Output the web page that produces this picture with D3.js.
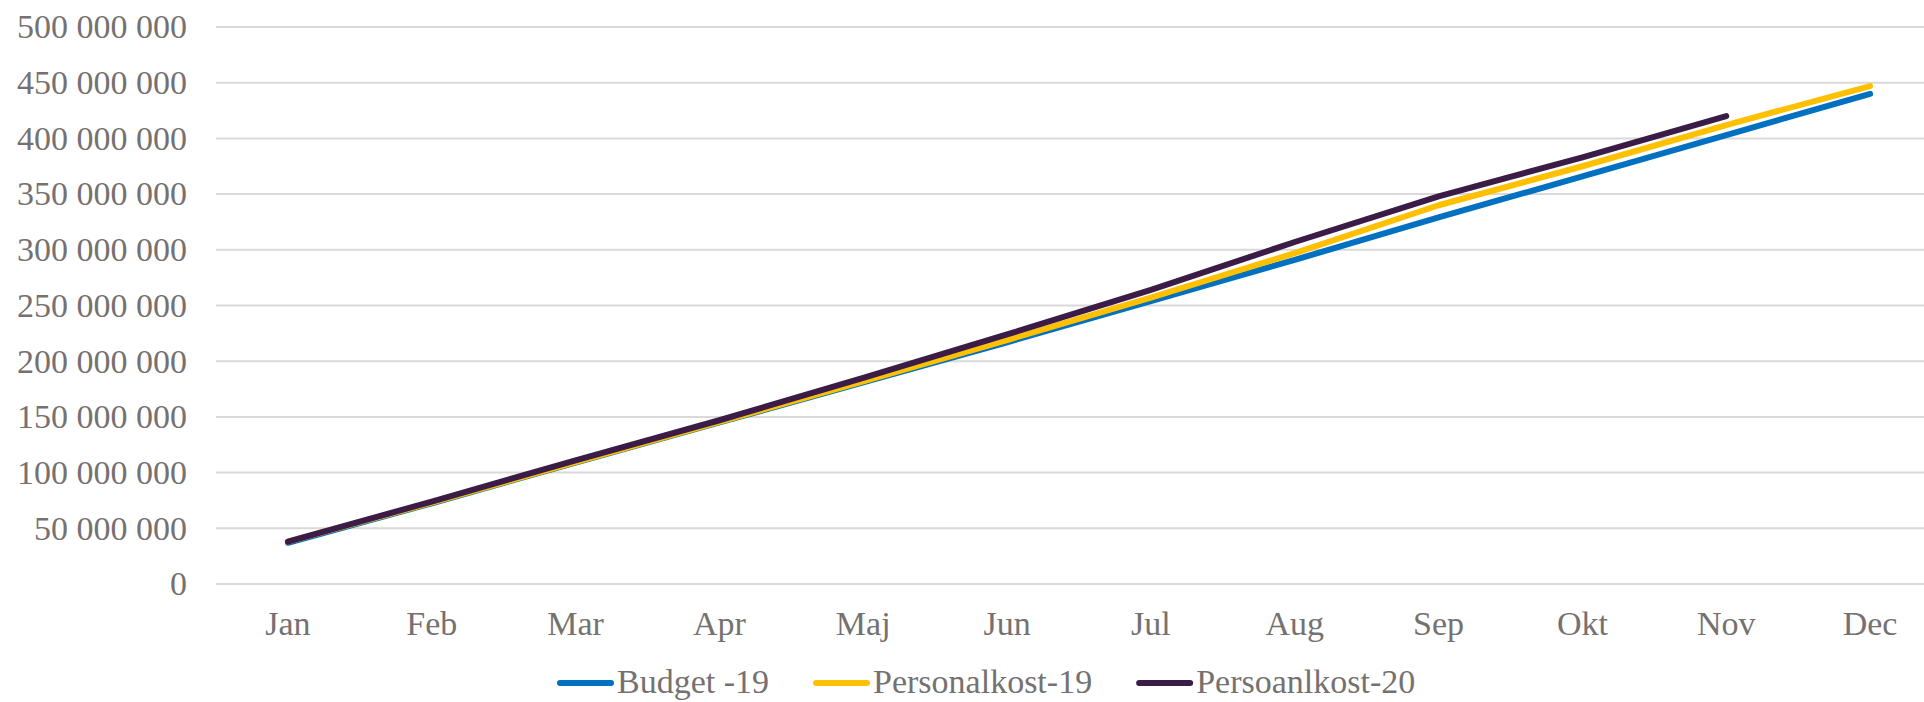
<!DOCTYPE html>
<html>
<head>
<meta charset="utf-8">
<script src="https://cdn.jsdelivr.net/npm/d3@7"></script>
<style>
  body { margin: 0; background: #fff; }
  text { font-family: "Liberation Serif", serif; fill: #767171; }
</style>
</head>
<body>
<svg width="1924" height="702"></svg>
<script>
// months and series (SEK)
var months = ['Jan', 'Feb', 'Mar', 'Apr', 'Maj', 'Jun', 'Jul', 'Aug', 'Sep', 'Okt', 'Nov', 'Dec'];
var budget19 = [37e6, 72.5e6, 109e6, 145e6, 181e6, 217e6, 254e6, 291e6, 329e6, 366e6, 403e6, 440e6];
var personal19 = [38e6, 73e6, 109.5e6, 145.5e6, 182e6, 219e6, 257e6, 297e6, 340e6, 375e6, 412e6, 447e6];
var personal20 = [38e6, 74e6, 111e6, 147e6, 185e6, 224e6, 264e6, 307e6, 348e6, 383e6, 420e6];
var yTicks = [0, 50e6, 100e6, 150e6, 200e6, 250e6, 300e6, 350e6, 400e6, 450e6, 500e6];

var seriesNames = ['Budget -19', 'Personalkost-19', 'Persoanlkost-20'];
var seriesColors = ['#0070C0', '#FFC000', '#3B1C46'];
var seriesData = [budget19, personal19, personal20];

var svg = d3.select('svg');

// plot runs past the right edge, the original is cropped there
// (don't name these top/left globals -- window.top is read-only)
var plotL = 216, plotR = 1942, plotT = 27, plotB = 584;

var x = d3.scaleBand().domain(months).range([plotL, plotR]);
var y = d3.scaleLinear().domain([0, 500e6]).range([plotB, plotT]);

var fmt = function(d) {
  return d3.format(',')(d).replace(/,/g, ' ');
};

// gridlines
svg.append('g')
  .selectAll('line')
  .data(yTicks)
  .enter()
  .append('line')
  .attr('x1', plotL)
  .attr('x2', plotR)
  .attr('y1', function(d) { return y(d); })
  .attr('y2', function(d) { return y(d); })
  .attr('stroke', '#D9D9D9')
  .attr('stroke-width', 2);

// y labels
var yAxis = d3.axisLeft(y).tickValues(yTicks).tickFormat(fmt).tickSize(0).tickPadding(0);
var gy = svg.append('g')
  .attr('transform', 'translate(187,0)')
  .call(yAxis);
gy.select('.domain').remove();
gy.selectAll('text')
  .attr('font-size', 34)
  .attr('font-family', '"Liberation Serif", serif')
  .attr('fill', '#767171');

// x labels
var xAxis = d3.axisBottom(x).tickSize(0).tickPadding(0);
var gx = svg.append('g')
  .attr('transform', 'translate(0,611)')
  .call(xAxis);
gx.select('.domain').remove();
gx.selectAll('text')
  .attr('font-size', 34)
  .attr('font-family', '"Liberation Serif", serif')
  .attr('fill', '#767171');

// lines
var line = d3.line()
  .x(function(d, i) { return x(months[i]) + x.bandwidth() / 2; })
  .y(function(d) { return y(d); });

svg.append('g')
  .selectAll('path')
  .data(seriesData)
  .enter()
  .append('path')
  .attr('d', function(d) { return line(d); })
  .attr('fill', 'none')
  .attr('stroke', function(d, i) { return seriesColors[i]; })
  .attr('stroke-width', 6)
  .attr('stroke-linecap', 'round')
  .attr('stroke-linejoin', 'round');

// legend, laid out left to right from the measured text widths
var lx = 557;
var legend = svg.append('g');
seriesNames.forEach(function(name, i) {
  legend.append('line')
    .attr('x1', lx + 3)
    .attr('x2', lx + 54)
    .attr('y1', 683)
    .attr('y2', 683)
    .attr('stroke', seriesColors[i])
    .attr('stroke-width', 6)
    .attr('stroke-linecap', 'round');
  var t = legend.append('text')
    .attr('x', lx + 60)
    .attr('y', 693)
    .attr('font-size', 34)
    .text(name);
  lx = lx + 60 + t.node().getComputedTextLength() + 44;
});
</script>
</body>
</html>
